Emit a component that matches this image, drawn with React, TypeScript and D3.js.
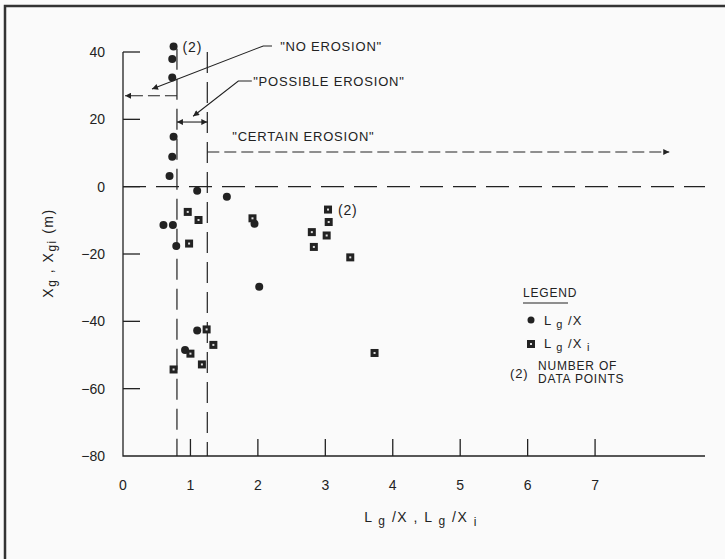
import { useEffect, useRef } from 'react';
import * as d3 from 'd3';

// Lg/X  (circles)
const circleX = [0.75, 0.73, 0.73, 0.75, 0.73, 0.69, 1.10, 1.54, 1.95, 0.60, 0.74, 0.79, 2.02, 1.10, 0.92];
const circleY = [41.6, 37.9, 32.4, 14.8, 8.9, 3.2, -1.2, -3.0, -11.0, -11.4, -11.4, -17.6, -29.7, -42.7, -48.5];

// Lg/Xi (squares)
const squareX = [0.96, 1.12, 1.92, 0.98, 3.04, 3.05, 2.80, 3.02, 2.83, 3.37, 1.24, 1.34, 1.00, 3.73, 1.17, 0.75];
const squareY = [-7.5, -9.9, -9.4, -16.9, -6.8, -10.5, -13.5, -14.5, -17.9, -21.0, -42.4, -47.0, -49.6, -49.4, -52.8, -54.3];

const xTicks = [0, 1, 2, 3, 4, 5, 6, 7];
const yTicks = [40, 20, 0, -20, -40, -60, -80];

// zone limits
const zoneLines = [0.8, 1.25];

const W = 725;
const H = 559;
const INK = '#222';
const FONT = '"Liberation Sans", Arial, sans-serif';

export default function App() {
  const svgRef = useRef<SVGSVGElement | null>(null);

  useEffect(() => {
    if (!svgRef.current) return;
    const svg = d3.select(svgRef.current);
    svg.selectAll('*').remove();

    const x = d3.scaleLinear().domain([0, 8.63]).range([123, 705]);
    const y = d3.scaleLinear().domain([-80, 40]).range([456, 52]);

    svg.append('rect').attr('width', W).attr('height', H).attr('fill', '#fafafa');

    // frame (left + top)
    svg.append('path')
      .attr('d', `M5,${H} L5,6 L${W},6`)
      .attr('fill', 'none')
      .attr('stroke', '#333')
      .attr('stroke-width', 2.5);

    const defs = svg.append('defs');
    defs.append('marker')
      .attr('id', 'ah')
      .attr('viewBox', '0 0 10 10')
      .attr('refX', 10)
      .attr('refY', 5)
      .attr('markerWidth', 9)
      .attr('markerHeight', 6)
      .attr('markerUnits', 'userSpaceOnUse')
      .attr('orient', 'auto-start-reverse')
      .append('path')
      .attr('d', 'M0,0 L10,5 L0,10 Z')
      .attr('fill', INK);

    // axes
    svg.append('path')
      .attr('d', `M${x(0)},${y(40)} L${x(0)},${y(-80)} L${x(8.63)},${y(-80)}`)
      .attr('fill', 'none')
      .attr('stroke', INK)
      .attr('stroke-width', 1.3);

    yTicks.filter((t) => t !== -80).forEach((t) => {
      svg.append('line')
        .attr('x1', x(0)).attr('x2', x(0) + 17)
        .attr('y1', y(t)).attr('y2', y(t))
        .attr('stroke', INK).attr('stroke-width', 1.3);
    });
    yTicks.forEach((t) => {
      svg.append('text')
        .attr('x', 105)
        .attr('y', y(t) + 5)
        .attr('text-anchor', 'end')
        .style('font-family', FONT)
        .style('font-size', '14px')
        .attr('fill', INK)
        .text(t < 0 ? `\u2212${-t}` : `${t}`);
    });

    xTicks.filter((t) => t !== 0).forEach((t) => {
      svg.append('line')
        .attr('x1', x(t)).attr('x2', x(t))
        .attr('y1', y(-80)).attr('y2', y(-80) - 17)
        .attr('stroke', INK).attr('stroke-width', 1.3);
    });
    xTicks.forEach((t) => {
      svg.append('text')
        .attr('x', x(t))
        .attr('y', 490)
        .attr('text-anchor', 'middle')
        .style('font-family', FONT)
        .style('font-size', '14px')
        .attr('fill', INK)
        .text(`${t}`);
    });

    // zone boundaries
    zoneLines.forEach((v, i) => {
      svg.append('line')
        .attr('x1', x(v)).attr('x2', x(v))
        .attr('y1', i === 0 ? y(41) : y(40)).attr('y2', y(-80))
        .attr('stroke', INK).attr('stroke-width', 1.2)
        .attr('stroke-dasharray', '21,9');
    });
    svg.append('line')
      .attr('x1', x(0)).attr('x2', x(8.63))
      .attr('y1', y(0)).attr('y2', y(0))
      .attr('stroke', INK).attr('stroke-width', 1.2)
      .attr('stroke-dasharray', '23,10');

    // "NO EROSION" arrow
    svg.append('line')
      .attr('x1', x(0.8)).attr('x2', x(0.03))
      .attr('y1', y(27)).attr('y2', y(27))
      .attr('stroke', INK).attr('stroke-width', 1.1)
      .attr('stroke-dasharray', '12,5')
      .attr('marker-end', 'url(#ah)');
    svg.append('path')
      .attr('d', `M${x(2.21)},${y(41.8)} L${x(2.08)},${y(41.8)} L${x(0.43)},${y(29)}`)
      .attr('fill', 'none').attr('stroke', INK).attr('stroke-width', 1.1)
      .attr('marker-end', 'url(#ah)');

    // "POSSIBLE EROSION" arrow
    svg.append('line')
      .attr('x1', x(0.8)).attr('x2', x(1.25))
      .attr('y1', y(19.2)).attr('y2', y(19.2))
      .attr('stroke', INK).attr('stroke-width', 1.1)
      .attr('marker-start', 'url(#ah)')
      .attr('marker-end', 'url(#ah)');
    svg.append('path')
      .attr('d', `M${x(1.91)},${y(31.4)} L${x(1.71)},${y(31.4)} L${x(1.04)},${y(20.9)}`)
      .attr('fill', 'none').attr('stroke', INK).attr('stroke-width', 1.1)
      .attr('marker-end', 'url(#ah)');

    // "CERTAIN EROSION" arrow
    svg.append('line')
      .attr('x1', x(1.25)).attr('x2', x(8.1))
      .attr('y1', y(10.3)).attr('y2', y(10.3))
      .attr('stroke', INK).attr('stroke-width', 1.1)
      .attr('stroke-dasharray', '12,5')
      .attr('marker-end', 'url(#ah)');

    const label = (tx: number, ty: number, s: string, size = 13) =>
      svg.append('text')
        .attr('x', tx).attr('y', ty)
        .style('font-family', FONT)
        .style('font-size', `${size}px`)
        .style('letter-spacing', '0.8px')
        .attr('fill', INK)
        .text(s);

    label(x(2.33), y(41.8) + 5, '"NO EROSION"');
    label(x(1.93), y(31.4) + 5, '"POSSIBLE EROSION"');
    label(x(1.62), y(15) + 5, '"CERTAIN EROSION"');

    // points
    circleX.forEach((cx, i) => {
      svg.append('circle')
        .attr('cx', x(cx)).attr('cy', y(circleY[i]))
        .attr('r', 4).attr('fill', INK);
    });
    squareX.forEach((sx, i) => {
      svg.append('rect')
        .attr('x', x(sx) - 4).attr('y', y(squareY[i]) - 4)
        .attr('width', 8).attr('height', 8).attr('fill', INK);
      svg.append('rect')
        .attr('x', x(sx) - 1).attr('y', y(squareY[i]) - 1)
        .attr('width', 2).attr('height', 2).attr('fill', '#ddd');
    });
    label(x(circleX[0]) + 9, y(circleY[0]) + 5, '(2)', 14);
    label(x(squareX[4]) + 10, y(squareY[4]) + 5, '(2)', 14);

    // legend
    const lx = 523;
    label(lx, 297, 'LEGEND', 12);
    svg.append('line')
      .attr('x1', lx).attr('x2', lx + 45)
      .attr('y1', 303).attr('y2', 303)
      .attr('stroke', INK).attr('stroke-width', 1);
    svg.append('circle').attr('cx', lx + 8).attr('cy', 320).attr('r', 3.5).attr('fill', INK);
    svg.append('rect').attr('x', lx + 4).attr('y', 340).attr('width', 8).attr('height', 8).attr('fill', INK);
    svg.append('rect').attr('x', lx + 7).attr('y', 343).attr('width', 2).attr('height', 2).attr('fill', '#ddd');

    const sub = (tx: number, ty: number, parts: [string, boolean][]) => {
      const t = svg.append('text')
        .attr('x', tx).attr('y', ty)
        .style('font-family', FONT)
        .style('font-size', '13px')
        .style('letter-spacing', '1px')
        .attr('fill', INK);
      let low = false;
      parts.forEach(([s, isLow]) => {
        const dy = isLow === low ? 0 : isLow ? 3 : -3;
        low = isLow;
        t.append('tspan')
          .attr('dy', dy)
          .style('font-size', isLow ? '11px' : '13px')
          .text(s);
      });
      return t;
    };
    sub(lx + 21, 325, [['L', false], [' g', true], [' /X', false]]);
    sub(lx + 21, 348, [['L', false], [' g', true], [' /X ', false], ['i', true]]);

    label(510, 378, '(2)', 13);
    label(538, 370, 'NUMBER OF', 12);
    label(538, 383, 'DATA POINTS', 12);

    // axis titles
    const xt = svg.append('text')
      .attr('x', 421).attr('y', 522)
      .attr('text-anchor', 'middle')
      .style('font-family', FONT)
      .style('font-size', '14px')
      .style('letter-spacing', '1.5px')
      .attr('fill', INK);
    xt.append('tspan').text('L');
    xt.append('tspan').attr('dy', 3).style('font-size', '12px').text(' g');
    xt.append('tspan').attr('dy', -3).text(' /X  ,  L');
    xt.append('tspan').attr('dy', 3).style('font-size', '12px').text(' g');
    xt.append('tspan').attr('dy', -3).text(' /X ');
    xt.append('tspan').attr('dy', 4).style('font-size', '12px').text('i');

    const yt = svg.append('text')
      .attr('transform', 'translate(53,253) rotate(-90)')
      .attr('text-anchor', 'middle')
      .style('font-family', FONT)
      .style('font-size', '14px')
      .style('letter-spacing', '1.5px')
      .attr('fill', INK);
    yt.append('tspan').text('X');
    yt.append('tspan').attr('dy', 3).style('font-size', '12px').text('g');
    yt.append('tspan').attr('dy', -3).text(' , X');
    yt.append('tspan').attr('dy', 3).style('font-size', '12px').text('gi');
    yt.append('tspan').attr('dy', -3).text(' (m)');
  }, []);

  return (
    <svg
      ref={svgRef}
      width={W}
      height={H}
      style={{ position: 'absolute', left: 0, top: 0, display: 'block' }}
    />
  );
}
